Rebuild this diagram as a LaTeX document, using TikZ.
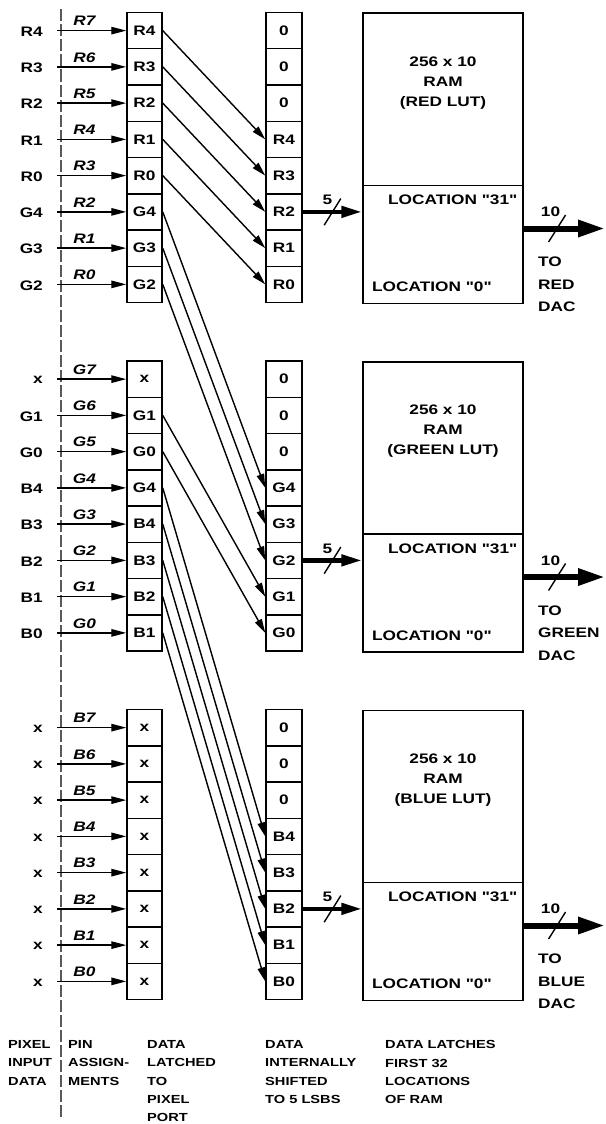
\documentclass[tikz,border=0pt]{standalone}
\usepackage{fontspec}
\newfontfamily\lutfont[FakeStretch=1.25]{Liberation Sans}
\usetikzlibrary{arrows.meta}

\newcommand{\cellfont}{\lutfont\bfseries\fontsize{13.8}{16}\selectfont}
\newcommand{\notefont}{\lutfont\bfseries\fontsize{11.7}{18.2}\selectfont}

\tikzset{
  lbl/.style={font=\cellfont, inner sep=0pt},
  pinlbl/.style={inner sep=0pt, font=\cellfont\itshape},
  cell/.style={lbl, draw, line width=1.5pt, minimum width=35pt, minimum height=36.25pt},
  ram/.style={draw, line width=1.5pt, minimum width=160pt, inner sep=0pt},
  inarrow/.style={line width=1.4pt, -{Triangle[length=15pt,width=7.5pt]}},
  xarrow/.style={line width=1.4pt, -{Triangle[length=14pt,width=7.5pt]}},
  bus5/.style={line width=4.5pt, -{Triangle[length=21pt,width=11pt]}},
  bus10/.style={line width=6pt, -{Triangle[length=27pt,width=16pt]}},
  slash/.style={line width=1.4pt},
  note/.style={font=\notefont, align=left, anchor=north west, inner sep=0pt}
}

\begin{document}
\begin{tikzpicture}[x=1pt,y=-1pt]
  \useasboundingbox (0,0) rectangle (605,1124);
  % pixel port boundary
  \draw[line width=1.4pt, black!65, dash pattern=on 12pt off 3pt] (61,9.5) -- (61,1117);

  % red block
  \foreach \i/\inp/\pin/\lat/\sh in {1/R4/R7/R4/0, 2/R3/R6/R3/0, 3/R2/R5/R2/0, 4/R1/R4/R1/R4,
      5/R0/R3/R0/R3, 6/G4/R2/G4/R2, 7/G3/R1/G3/R1, 8/G2/R0/G2/R0}{
    \pgfmathsetmacro{\ry}{12.5+(\i-0.5)*36.25}
    \node[lbl, anchor=east] (pr\i) at (43,\ry+1) {\inp};
    \node[pinlbl] (nr\i) at (84.5,\ry-9.5) {\pin};
    \coordinate (ar\i) at (57,\ry);
    \node[cell] (lr\i) at (144.5,\ry) {\lat};
    \node[cell, minimum width=36pt] (sr\i) at (284,\ry) {\sh};
    \draw[inarrow] (ar\i) -- (lr\i);
  }
  % green block
  \foreach \i/\inp/\pin/\lat/\sh in {1/x/G7/x/0, 2/G1/G6/G1/0, 3/G0/G5/G0/0, 4/B4/G4/G4/G4,
      5/B3/G3/B4/G3, 6/B2/G2/B3/G2, 7/B1/G1/B2/G1, 8/B0/G0/B1/G0}{
    \pgfmathsetmacro{\ry}{361+(\i-0.5)*36.25}
    \node[lbl, anchor=east] (pg\i) at (43,\ry+1) {\inp};
    \node[pinlbl] (ng\i) at (84.5,\ry-9.5) {\pin};
    \coordinate (ag\i) at (57,\ry);
    \node[cell] (lg\i) at (144.5,\ry) {\lat};
    \node[cell, minimum width=36pt] (sg\i) at (284,\ry) {\sh};
    \draw[inarrow] (ag\i) -- (lg\i);
  }
  % blue block
  \foreach \i/\inp/\pin/\lat/\sh in {1/x/B7/x/0, 2/x/B6/x/0, 3/x/B5/x/0, 4/x/B4/x/B4,
      5/x/B3/x/B3, 6/x/B2/x/B2, 7/x/B1/x/B1, 8/x/B0/x/B0}{
    \pgfmathsetmacro{\ry}{709.5+(\i-0.5)*36.25}
    \node[lbl, anchor=east] (pb\i) at (43,\ry+1) {\inp};
    \node[pinlbl] (nb\i) at (84.5,\ry-9.5) {\pin};
    \coordinate (ab\i) at (57,\ry);
    \node[cell] (lb\i) at (144.5,\ry) {\lat};
    \node[cell, minimum width=36pt] (sb\i) at (284,\ry) {\sh};
    \draw[inarrow] (ab\i) -- (lb\i);
  }

  % shift to the 5 LSBs
  \foreach \a/\z in {lr1/sr4, lr2/sr5, lr3/sr6, lr4/sr7, lr5/sr8, lr6/sg4, lr7/sg5, lr8/sg6,
      lg2/sg7, lg3/sg8, lg4/sb4, lg5/sb5, lg6/sb6, lg7/sb7, lg8/sb8}
    \draw[xarrow] (\a.east) -- (\z.west);

  % lookup tables
  \foreach \b/\c/\lutname in {0/r/RED, 1/g/GREEN, 2/b/BLUE}{
    \pgfmathsetmacro{\T}{12.5+348.5*\b}
    \node[ram, minimum height=172.3pt, anchor=north] (ramtop\c) at (443,\T) {};
    \node[ram, minimum height=117.7pt, anchor=north] (ram\c) at (443,\T+172.3) {};
    \node[lbl, align=center, anchor=north, font=\lutfont\bfseries\fontsize{13.8}{20}\selectfont]
      (lut\c) at (443,\T+44) {256 x 10\\RAM\\(\lutname{} LUT)};
    \node[lbl, anchor=east] (hi\c) at (517.5,\T+187.5) {LOCATION "31"};
    \node[lbl, anchor=west] (lo\c) at (372,\T+274.6) {LOCATION "0"};
    \draw[bus5] (s\c6.east) -- (s\c6.east -| ram\c.west) coordinate[midway] (m\c);
    \draw[slash] ([shift={(-8.3,13.3)}]m\c) -- ([shift={(8.3,-13.3)}]m\c);
    \node[lbl] (five\c) at ([shift={(-5,-11.6)}]m\c) {5};
    \coordinate (dac\c) at (605,\T+216);
    \draw[bus10] (dac\c -| ram\c.east) -- (dac\c) coordinate[pos=0.41] (o\c);
    \draw[slash] ([shift={(-8.5,13.5)}]o\c) -- ([shift={(8.5,-13.5)}]o\c);
    \node[lbl] (ten\c) at ([shift={(-6.5,-16.5)}]o\c) {10};
    \node[lbl, align=left, anchor=north west, font=\lutfont\bfseries\fontsize{13.8}{22.5}\selectfont]
      (to\c) at (538,\T+244.3) {TO\\\lutname\\DAC};
  }

  % column captions
  \node[note] (cap1) at (8,1040.5) {PIXEL\\INPUT\\DATA};
  \node[note] (cap2) at (68,1040.5) {PIN\\ASSIGN-\\MENTS};
  \node[note] (cap3) at (147,1040.5) {DATA\\LATCHED\\TO\\PIXEL\\PORT};
  \node[note] (cap4) at (265,1040.5) {DATA\\INTERNALLY\\SHIFTED\\TO 5 LSBS};
  \node[note] (cap5) at (385,1040.5) {DATA LATCHES\\FIRST 32\\LOCATIONS\\OF RAM};
\end{tikzpicture}
\end{document}
